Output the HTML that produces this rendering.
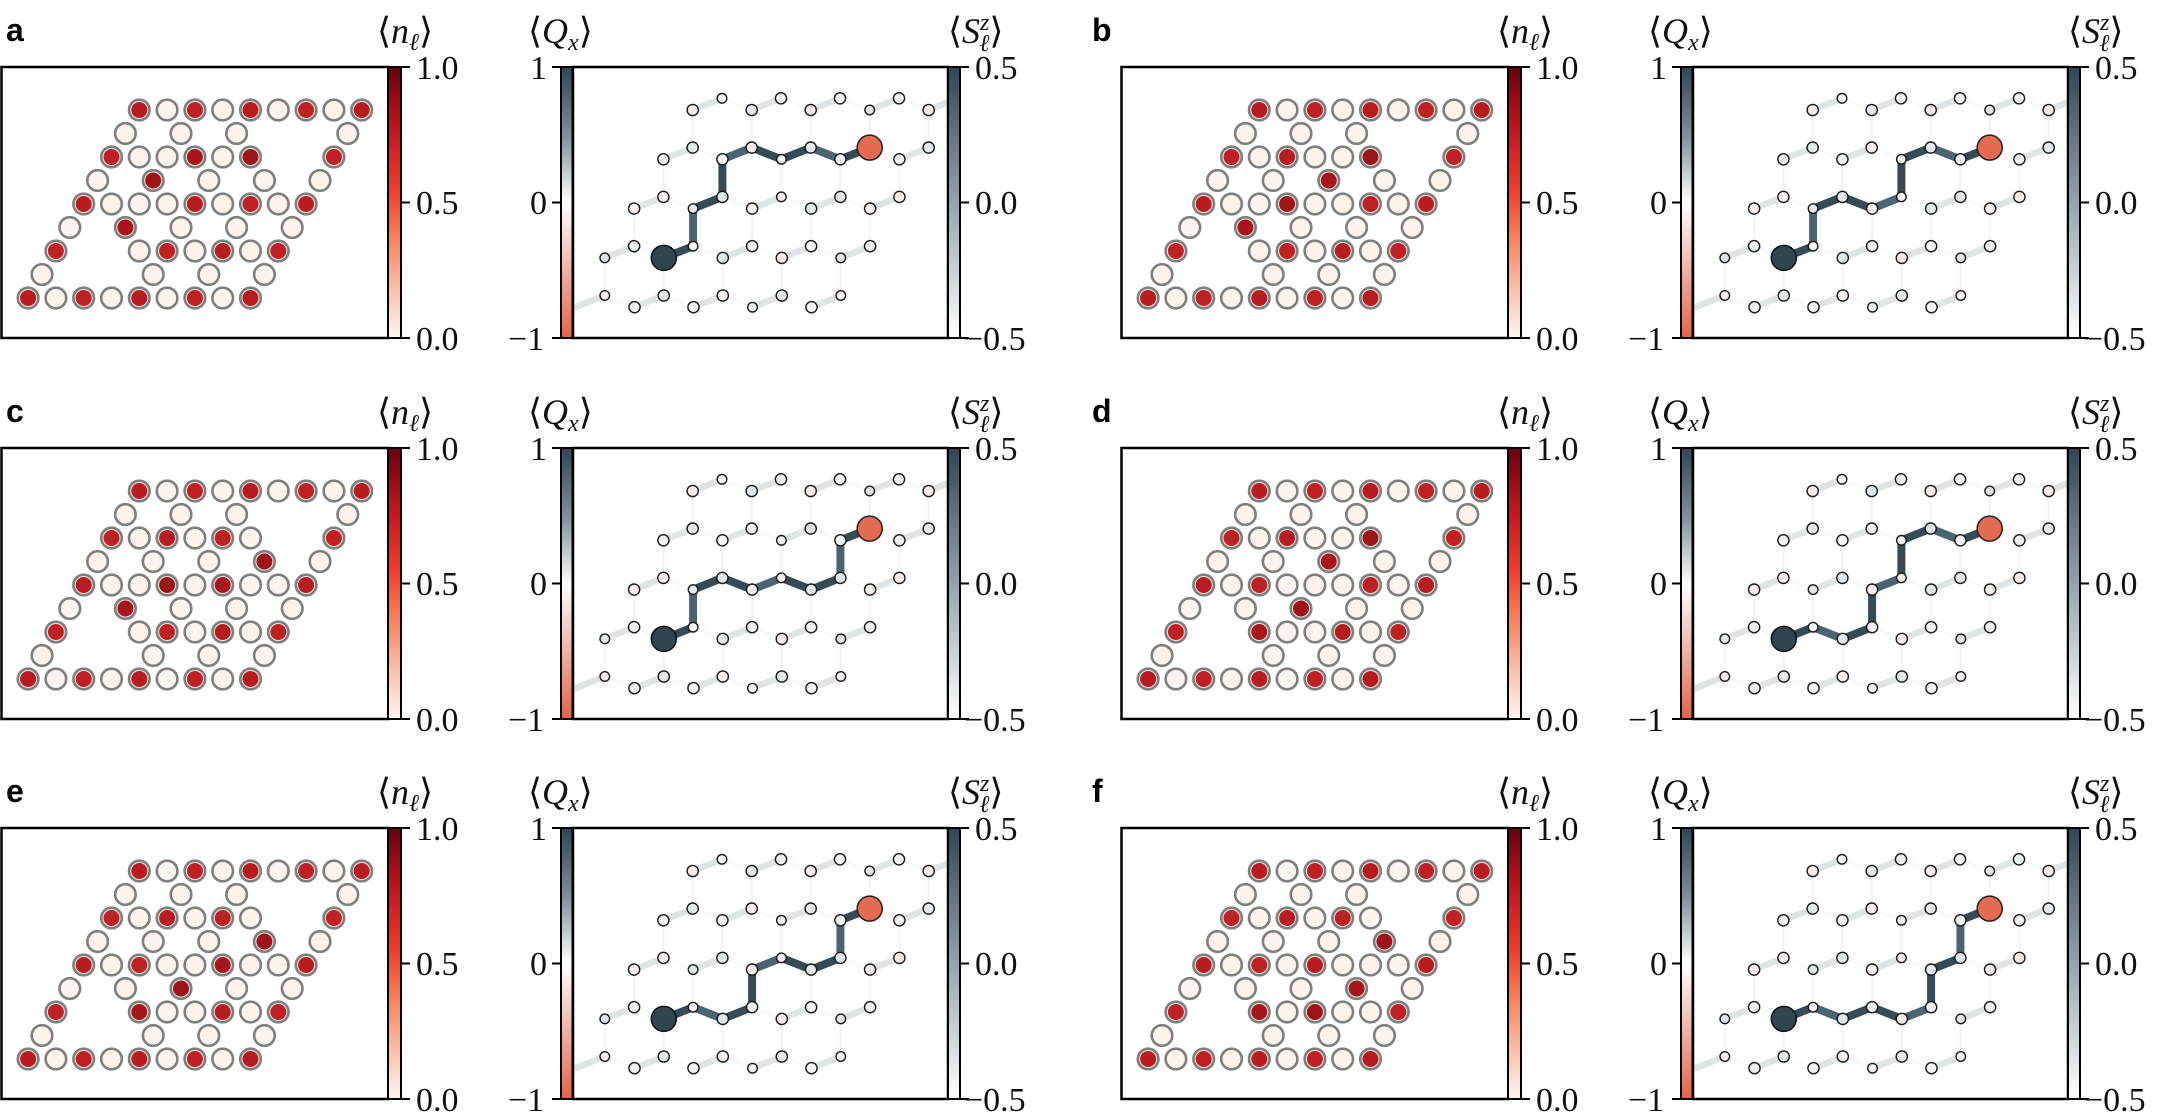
<!DOCTYPE html>
<html><head><meta charset="utf-8">
<style>
html,body{margin:0;padding:0;background:#fff;}
svg{display:block;}
.t{font-family:"Liberation Serif","DejaVu Serif",serif;font-size:34px;fill:#111;}
.m{font-family:"Liberation Serif","DejaVu Serif",serif;font-size:36px;fill:#111;}
.L{font-family:"Liberation Sans","DejaVu Sans",sans-serif;font-weight:bold;font-size:32px;fill:#000;}
</style></head>
<body>
<svg id="s" xmlns="http://www.w3.org/2000/svg" width="2168" height="1114" viewBox="0 0 2168 1114">
<defs>
<linearGradient id="gR" x1="0" y1="0" x2="0" y2="1">
<stop offset="0" stop-color="#67000d"/><stop offset="0.15" stop-color="#a50f15"/><stop offset="0.3" stop-color="#d42020"/><stop offset="0.45" stop-color="#f03b2c"/><stop offset="0.6" stop-color="#f7764f"/><stop offset="0.75" stop-color="#fca98a"/><stop offset="0.9" stop-color="#fdd9c8"/><stop offset="1" stop-color="#fff5f0"/>
</linearGradient>
<linearGradient id="gQ" x1="0" y1="0" x2="0" y2="1">
<stop offset="0" stop-color="#2e4753"/><stop offset="0.25" stop-color="#7b8f98"/><stop offset="0.5" stop-color="#ffffff"/><stop offset="0.75" stop-color="#efb2a4"/><stop offset="1" stop-color="#e2624a"/>
</linearGradient>
<linearGradient id="gS" x1="0" y1="0" x2="0" y2="1">
<stop offset="0" stop-color="#2e4753"/><stop offset="0.5" stop-color="#93a4ab"/><stop offset="1" stop-color="#ffffff"/>
</linearGradient>
<clipPath id="cp0"><rect x="573" y="67" width="375" height="271"/></clipPath>
<clipPath id="cp1"><rect x="573" y="448" width="375" height="271"/></clipPath>
<clipPath id="cp2"><rect x="573" y="828" width="375" height="271"/></clipPath>
</defs>
<g id="content"></g>

<text class="L" x="6" y="41">a</text>
<text class="L" x="1092" y="41">b</text>
<text class="L" x="6" y="422">c</text>
<text class="L" x="1092" y="422">d</text>
<text class="L" x="6" y="802">e</text>
<text class="L" x="1092" y="802">f</text>

<g id="lbls">
<g>
<text class="m" x="377" y="43">⟨<tspan font-style="italic">n</tspan><tspan font-size="24" font-style="italic" dy="7">ℓ</tspan><tspan dy="-7">⟩</tspan></text>
<text class="m" x="528" y="43">⟨<tspan font-style="italic">Q</tspan><tspan font-size="24" font-style="italic" dy="7">x</tspan><tspan dy="-7">⟩</tspan></text>
<text class="m" x="948" y="43">⟨<tspan font-style="italic">S</tspan><tspan font-size="24" font-style="italic" dy="-13">z</tspan><tspan font-size="24" font-style="italic" dx="-10" dy="21">ℓ</tspan><tspan dy="-8">⟩</tspan></text>
<text class="t" x="416" y="79">1.0</text><text class="t" x="416" y="214">0.5</text><text class="t" x="416" y="350">0.0</text>
<text class="t" x="530" y="79">1</text><text class="t" x="530" y="214">0</text><text class="t" x="508" y="350">−1</text>
<text class="t" x="975" y="79">0.5</text><text class="t" x="975" y="214">0.0</text><text class="t" x="964" y="350">−0.5</text>
</g>
</g>
</svg>
<script>
(function(){
var NS="http://www.w3.org/2000/svg";
var root=document.getElementById('content');
function el(n,a,p){var e=document.createElementNS(NS,n);for(var k in a)e.setAttribute(k,a[k]);(p||root).appendChild(e);return e;}
var lb=document.getElementById('lbls').firstElementChild;
[[1120,0],[0,381],[1120,381],[0,761],[1120,761]].forEach(function(o){
  var c=lb.cloneNode(true);c.setAttribute('transform','translate('+o[0]+','+o[1]+')');lb.parentNode.appendChild(c);});
var rows=[[0,1,2,3,4,5,6,7,8],[0,2,4,8],[0,1,2,3,4,5,8],[0,2,4,6,8],[0,1,2,3,4,5,6,7,8],[0,2,4,6,8],[0,3,4,5,6,7,8],[0,4,6,8],[0,1,2,3,4,5,6,7,8]];
var E=[0,2,4,6,8];
var reds=[
 [E,[],[0,3,5,8],[2],[0,4,6,8],[2],[0,4,6,8],[],E],
 [E,[],[0,2,5,8],[4],[0,3,6,8],[2],[0,4,6,8],[],E],
 [E,[],[0,2,4,8],[6],[0,3,5,8],[2],[0,4,6,8],[],E],
 [E,[],[0,2,5,8],[4],[0,2,6,8],[4],[0,3,6,8],[],E],
 [E,[],[0,2,4,8],[6],[0,2,5,8],[4],[0,3,6,8],[],E],
 [E,[],[0,2,4,8],[6],[0,2,4,8],[6],[0,3,5,8],[],E]];
var redc=['#b81c1f','#a8151a','#bf2022','#9e1418'];
var paths=[
 [['L',3,1],['R',3,1],['L',2,1],['R',2,1],['L',1,1],['R',1,1],['L',1,2],['R',1,2],['L',1,3],['R',1,3]],
 [['L',3,1],['R',3,1],['L',2,1],['R',2,1],['L',2,2],['R',2,2],['L',1,2],['R',1,2],['L',1,3],['R',1,3]],
 [['L',3,1],['R',3,1],['L',2,1],['R',2,1],['L',2,2],['R',2,2],['L',2,3],['R',2,3],['L',1,3],['R',1,3]],
 [['L',3,1],['R',3,1],['L',3,2],['R',3,2],['L',2,2],['R',2,2],['L',1,2],['R',1,2],['L',1,3],['R',1,3]],
 [['L',3,1],['R',3,1],['L',3,2],['R',3,2],['L',2,2],['R',2,2],['L',2,3],['R',2,3],['L',1,3],['R',1,3]],
 [['L',3,1],['R',3,1],['L',3,2],['R',3,2],['L',3,3],['R',3,3],['L',2,3],['R',2,3],['L',1,3],['R',1,3]]];
var tints=['#f4f5f6','#e3e8ea','#f7ece9','#eef1f2','#f9f0ee','#dfe5e8'];
for(var p=0;p<6;p++){
  var ox=(p%2)*1120, oy=[0,381,761][Math.floor(p/2)];
  el('rect',{x:ox+1.5,y:oy+67,width:387,height:271,fill:'#fff',stroke:'#000','stroke-width':2.5});
  var g=el('g',{});
  for(var r=0;r<9;r++){rows[r].forEach(function(c){
    var x=ox+139.3-13.9*r+27.8*c, y=oy+110+23.5*r;
    var red=reds[p][r].indexOf(c)>=0;
    el('circle',{cx:x,cy:y,r:10.3,fill:red?'#f6e6e0':'#fbf3ec',stroke:'#7f7f7f','stroke-width':2.6},g);
    if(red) el('circle',{cx:x,cy:y,r:8,fill:redc[(r*3+c)%4]},g);
  });}
  el('rect',{x:ox+388,y:oy+67,width:13,height:271,fill:'url(#gR)',stroke:'#000','stroke-width':2});
  [67,202.5,338].forEach(function(t){el('line',{x1:ox+401,x2:ox+410,y1:oy+t,y2:oy+t,stroke:'#000','stroke-width':2});});
  var ci=Math.floor(p/2);
  el('rect',{x:ox+573,y:oy+67,width:375,height:271,fill:'#fff'});
  var gr=el('g',{'clip-path':'url(#cp'+ci+')',transform:'translate('+ox+',0)'});
  function pos(t,r,k){var x=692.7-29.3*r+59*k, y=oy+110+49.3*r; if(t=='R'){x+=29.3;y-=11.7;} return [x,y];}
  for(var r=0;r<5;r++)for(var k=0;k<5;k++){
    var a=pos('L',r,k),b=pos('R',r,k);
    el('line',{x1:a[0],y1:a[1],x2:b[0],y2:b[1],stroke:'#dfe4e7','stroke-width':6.5,'stroke-linecap':'round'},gr);
    if(r>0){var c2=pos('L',r-1,k);el('line',{x1:b[0],y1:b[1],x2:c2[0],y2:c2[1],stroke:'#f3f5f6','stroke-width':2.5},gr);}
    if(k<4){var d=pos('L',r,k+1);el('line',{x1:b[0],y1:b[1],x2:d[0],y2:d[1],stroke:'#f7f8f8','stroke-width':2.5},gr);}
  }
  var pp=paths[p];
  for(var i=0;i<pp.length-1;i++){
    var a=pos.apply(null,pp[i]),b=pos.apply(null,pp[i+1]);
    el('line',{x1:a[0],y1:a[1],x2:b[0],y2:b[1],stroke:(i%3==1)?'#4a6470':'#354b56','stroke-width':8,'stroke-linecap':'round'},gr);
  }
  for(var r=0;r<5;r++)for(var k=0;k<5;k++){
    ['L','R'].forEach(function(t){
      if(t=='L'&&r==4&&k==0)return; if(t=='R'&&r==0&&k==4)return;
      var q=pos(t,r,k);
      el('circle',{cx:q[0],cy:q[1],r:((r+k+(t=='L'?1:0))%4==0)?4.8:5.6,fill:tints[(r*7+k*3+(t=='L'?2:0))%6],stroke:'#1a1a1a','stroke-width':1.4},gr);
    });
  }
  var s=pos('L',3,1),e=pos('R',1,3);
  el('circle',{cx:s[0],cy:s[1],r:12.5,fill:'#2f4550',stroke:'#111','stroke-width':1.5},gr);
  el('circle',{cx:e[0],cy:e[1],r:12.5,fill:'#e36b4f',stroke:'#222','stroke-width':1.5},gr);
  el('rect',{x:ox+573,y:oy+67,width:375,height:271,fill:'none',stroke:'#000','stroke-width':2.5});
  el('rect',{x:ox+561,y:oy+67,width:11.5,height:271,fill:'url(#gQ)',stroke:'#000','stroke-width':2});
  el('rect',{x:ox+948,y:oy+67,width:12,height:271,fill:'url(#gS)',stroke:'#000','stroke-width':2});
  [67,202.5,338].forEach(function(t){
    el('line',{x1:ox+552,x2:ox+561,y1:oy+t,y2:oy+t,stroke:'#000','stroke-width':2});
    el('line',{x1:ox+960,x2:ox+969,y1:oy+t,y2:oy+t,stroke:'#000','stroke-width':2});
  });
}
})();
</script>
</body></html>
